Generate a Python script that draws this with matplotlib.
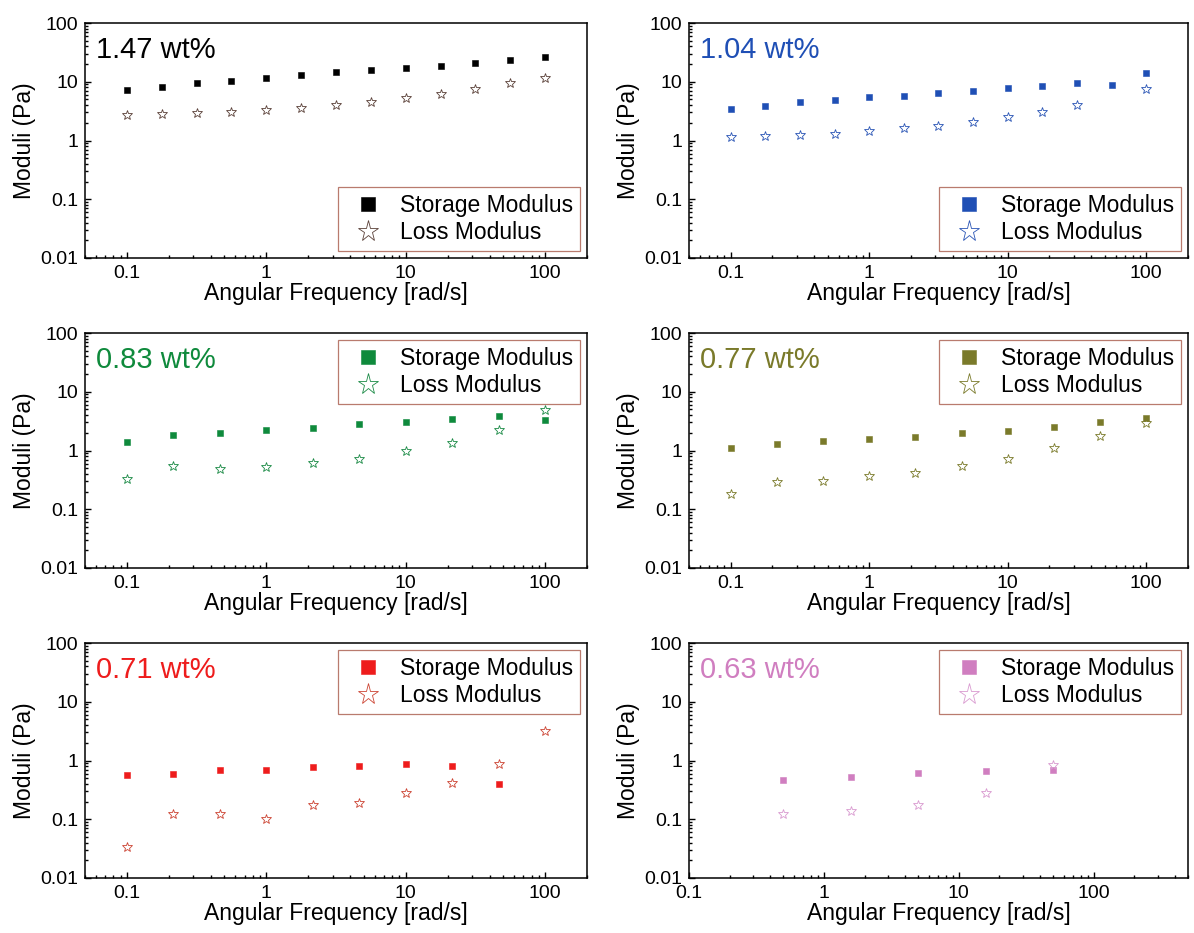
import matplotlib
matplotlib.use('Agg')
import matplotlib.pyplot as plt
from matplotlib.ticker import FuncFormatter, NullFormatter, LogLocator

plt.rcParams['font.family'] = ['Liberation Sans', 'DejaVu Sans']

# ---------------- data ----------------
freq_a = [0.1, 0.178, 0.316, 0.562, 1, 1.78, 3.16, 5.62, 10, 17.8, 31.6, 56.2, 100]
freq_b = [0.1, 0.215, 0.464, 1, 2.15, 4.64, 10, 21.5, 46.4, 100]
freq_c = [0.5, 1.58, 5, 15.8, 50]

# 1.47 wt%
g1_store = [7.2, 8.3, 9.4, 10.5, 11.7, 12.8, 14.4, 15.6, 17.0, 18.9, 21.0, 23.6, 26.5]
g1_loss = [2.72, 2.87, 2.94, 3.07, 3.35, 3.58, 3.97, 4.52, 5.22, 6.26, 7.61, 9.37, 11.8]

# 1.04 wt%  (no loss point at 56.2 rad/s)
g2_store = [3.4, 3.87, 4.47, 4.89, 5.42, 5.79, 6.43, 7.03, 7.81, 8.55, 9.49, 8.67, 14.2]
g2_loss_freq = [0.1, 0.178, 0.316, 0.562, 1, 1.78, 3.16, 5.62, 10, 17.8, 31.6, 100]
g2_loss = [1.15, 1.18, 1.26, 1.30, 1.44, 1.62, 1.77, 2.07, 2.52, 3.1, 4.03, 7.41]

# 0.83 wt%
g3_store = [1.42, 1.84, 1.99, 2.21, 2.45, 2.79, 3.10, 3.49, 3.92, 3.35]
g3_loss = [0.327, 0.55, 0.483, 0.522, 0.61, 0.73, 1.0, 1.33, 2.27, 4.83]

# 0.77 wt%
g4_store = [1.10, 1.28, 1.46, 1.60, 1.73, 1.97, 2.18, 2.52, 3.06, 3.58]
g4_loss = [0.184, 0.287, 0.302, 0.367, 0.407, 0.542, 0.723, 1.10, 1.75, 2.94]

# 0.71 wt%  (no storage point at 100 rad/s)
g5_store_freq = [0.1, 0.215, 0.464, 1, 2.15, 4.64, 10, 21.5, 46.4]
g5_store = [0.557, 0.587, 0.677, 0.695, 0.761, 0.791, 0.879, 0.802, 0.402]
g5_loss = [0.034, 0.123, 0.123, 0.101, 0.175, 0.189, 0.276, 0.413, 0.867, 3.14]

# 0.63 wt%
g6_store = [0.458, 0.528, 0.61, 0.651, 0.686]
g6_loss = [0.122, 0.138, 0.173, 0.279, 0.823]

labels = ['1.47 wt%', '1.04 wt%', '0.83 wt%', '0.77 wt%', '0.71 wt%', '0.63 wt%']
colors = ['#000000', '#1f4fb5', '#0f8a3c', '#7a7a2a', '#ee1c1c', '#d07ec0']
star_colors = ['#5a4038', '#2a55b5', '#1a8a45', '#7a7a2a', '#cc4433', '#d99ad0']

# ---------------- figure ----------------
fig = plt.figure(figsize=(11.94, 9.33), dpi=100)

W, H = 1194, 933
lefts = [85, 689]
widths = [502, 499]
tops = [23, 333, 643]
ax_h = 235

panels = [
    (freq_a, g1_store, freq_a, g1_loss, 'lower right', (0.05, 200)),
    (freq_a, g2_store, g2_loss_freq, g2_loss, 'lower right', (0.05, 200)),
    (freq_b, g3_store, freq_b, g3_loss, 'upper right', (0.05, 200)),
    (freq_b, g4_store, freq_b, g4_loss, 'upper right', (0.05, 200)),
    (g5_store_freq, g5_store, freq_b, g5_loss, 'upper right', (0.05, 200)),
    (freq_c, g6_store, freq_c, g6_loss, 'upper right', (0.1, 500)),
]

fmt = FuncFormatter(lambda v, p: f'{v:g}')

for i, (xs, ys, xl, yl, loc, xlim) in enumerate(panels):
    row, col = divmod(i, 2)
    rect = [lefts[col] / W, 1 - (tops[row] + ax_h) / H, widths[col] / W, ax_h / H]
    ax = fig.add_axes(rect)
    c = colors[i]

    ax.plot(xs, ys, 's', ms=4.6, color=c, mec=c, mew=0.4, ls='none',
            label='Storage Modulus')
    ax.plot(xl, yl, '*', ms=7, mfc='none', mec=star_colors[i], mew=0.6, ls='none',
            label='Loss Modulus')

    ax.set_xscale('log')
    ax.set_yscale('log')
    ax.set_xlim(*xlim)
    ax.set_ylim(0.01, 100)

    ax.xaxis.set_major_locator(LogLocator(base=10))
    ax.yaxis.set_major_locator(LogLocator(base=10))
    ax.xaxis.set_major_formatter(fmt)
    ax.yaxis.set_major_formatter(fmt)
    ax.xaxis.set_minor_formatter(NullFormatter())
    ax.yaxis.set_minor_formatter(NullFormatter())

    ax.tick_params(which='both', direction='in', top=False, right=False,
                   labelsize=14, width=1.0)
    ax.tick_params(which='major', length=4.5, pad=5)
    ax.tick_params(which='minor', length=2.2)
    for s in ax.spines.values():
        s.set_linewidth(1.1)

    ax.set_xlabel('Angular Frequency [rad/s]', fontsize=16.5, labelpad=0)
    ax.set_ylabel('Moduli (Pa)', fontsize=16.5, labelpad=3)

    ax.text(0.022, 0.85, labels[i], transform=ax.transAxes, fontsize=21,
            color=c, ha='left', va='baseline')

    leg = ax.legend(loc=loc, fontsize=16.5, markerscale=2.2, frameon=True,
                    fancybox=False, borderpad=0.3, labelspacing=0.2,
                    handlelength=2.0, handletextpad=0.4, borderaxespad=0.3)
    leg.get_frame().set_edgecolor('#a85a4a')
    leg.get_frame().set_linewidth(0.9)

plt.savefig('out.png', dpi=100)
